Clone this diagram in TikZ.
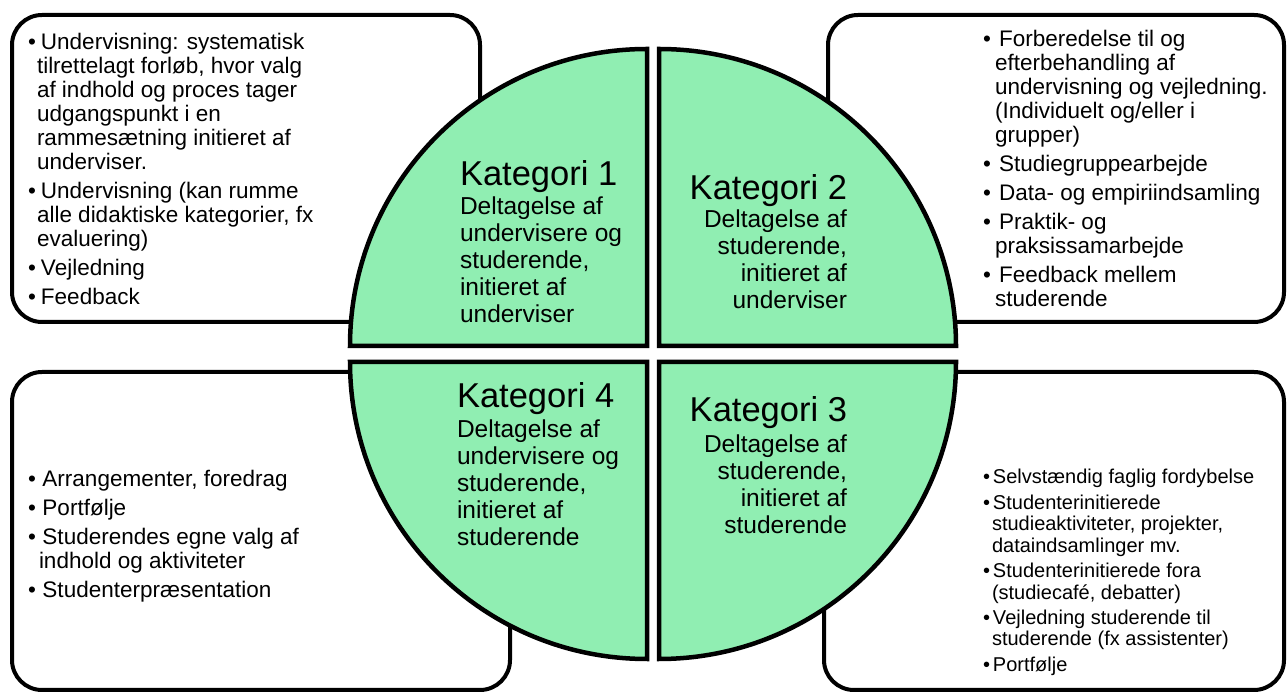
\documentclass[tikz,border=0pt]{standalone}
\usepackage{fontspec}
\setmainfont{Liberation Sans}
\definecolor{qgreen}{RGB}{144,238,178}
\newlength{\bulw}\newlength{\hangw}
\newcommand{\bitem}{\par\noindent\hangindent=\hangw\hangafter=1\makebox[\bulw][l]{•}}
\newcommand{\boxfont}{\fontsize{22.5}{24}\selectfont}
\newcommand{\smallboxfont}{\fontsize{20}{21.3}\selectfont}
\newcommand{\katfont}{\fontsize{34.5}{38}\selectfont}
\newcommand{\qfont}{\fontsize{24.5}{27}\selectfont}
\begin{document}
\begin{tikzpicture}[x=1pt,y=1pt,
  infobox/.style={draw=black, line width=4pt, fill=white, rounded corners=30pt},
  quadrant/.style={draw=black, line width=4.5pt, fill=qgreen, line join=miter},
  txt/.style={inner sep=0pt, outer sep=0pt}]
\useasboundingbox (0,0) rectangle (1287,693);
% boxes
\draw[infobox] (12,371) rectangle (480,678);
\draw[infobox] (828,371) rectangle (1284,678);
\draw[infobox] (12,3) rectangle (510,321);
\draw[infobox] (824,3) rectangle (1284,321);
% quadrants
\draw[quadrant] (647,347) -- (350,347) arc[start angle=180, end angle=90, radius=297] -- cycle;
\draw[quadrant] (659,347) -- (659,644) arc[start angle=90, end angle=0, radius=297] -- cycle;
\draw[quadrant] (647,331) -- (350,331) arc[start angle=180, end angle=270, radius=297] -- cycle;
\draw[quadrant] (659,331) -- (956,331) arc[start angle=0, end angle=-90, radius=297] -- cycle;
% box texts
\node[txt, anchor=base west] (tltext) at (28,643) {\begin{minipage}[t]{440pt}\boxfont\setlength{\parskip}{5pt}\setlength{\bulw}{13pt}\setlength{\hangw}{9pt}%
\bitem Undervisning: systematisk\\ tilrettelagt forløb, hvor valg\\ af indhold og proces tager\\ udgangspunkt i en\\ rammesætning initieret af\\ underviser.
\bitem Undervisning (kan rumme\\ alle didaktiske kategorier, fx\\ evaluering)
\bitem Vejledning
\bitem Feedback
\end{minipage}};
\node[txt, anchor=base west] (trtext) at (983,646) {\begin{minipage}[t]{300pt}\boxfont\setlength{\parskip}{5pt}\setlength{\bulw}{16pt}\setlength{\hangw}{12pt}%
\bitem Forberedelse til og\\ efterbehandling af\\ undervisning og vejledning.\\ (Individuelt og/eller i\\ grupper)
\bitem Studiegruppearbejde
\bitem Data- og empiriindsamling
\bitem Praktik- og\\ praksissamarbejde
\bitem Feedback mellem\\ studerende
\end{minipage}};
\node[txt, anchor=base west] (bltext) at (28,206) {\begin{minipage}[t]{440pt}\boxfont\setlength{\parskip}{5pt}\setlength{\bulw}{14.5pt}\setlength{\hangw}{11pt}%
\bitem Arrangementer, foredrag
\bitem Portfølje
\bitem Studerendes egne valg af\\ indhold og aktiviteter
\bitem Studenterpræsentation
\end{minipage}};
\node[txt, anchor=base west] (brtext) at (983,209) {\begin{minipage}[t]{300pt}\smallboxfont\setlength{\parskip}{4.3pt}\setlength{\bulw}{10pt}\setlength{\hangw}{9pt}%
\bitem Selvstændig faglig fordybelse
\bitem Studenterinitierede\\ studieaktiviteter, projekter,\\ dataindsamlinger mv.
\bitem Studenterinitierede fora\\ (studiecafé, debatter)
\bitem Vejledning studerende til\\ studerende (fx assistenter)
\bitem Portfølje
\end{minipage}};
% quadrant texts
\node[txt, anchor=base west] (k1) at (460,507) {\katfont Kategori 1};
\node[txt, anchor=base west] (d1) at (460,478) {\begin{minipage}[t]{190pt}\qfont Deltagelse af\\ undervisere og\\ studerende,\\ initieret af\\ underviser\end{minipage}};
\node[txt, anchor=base east] (k2) at (847,493) {\katfont Kategori 2};
\node[txt, anchor=base east] (d2) at (847,465) {\begin{minipage}[t]{190pt}\qfont\raggedleft Deltagelse af\\ studerende,\\ initieret af\\ underviser\end{minipage}};
\node[txt, anchor=base west] (k4) at (457,285) {\katfont Kategori 4};
\node[txt, anchor=base west] (d4) at (457,255) {\begin{minipage}[t]{190pt}\qfont Deltagelse af\\ undervisere og\\ studerende,\\ initieret af\\ studerende\end{minipage}};
\node[txt, anchor=base east] (k3) at (847,271) {\katfont Kategori 3};
\node[txt, anchor=base east] (d3) at (847,240) {\begin{minipage}[t]{190pt}\qfont\raggedleft Deltagelse af\\ studerende,\\ initieret af\\ studerende\end{minipage}};
\end{tikzpicture}
\end{document}
